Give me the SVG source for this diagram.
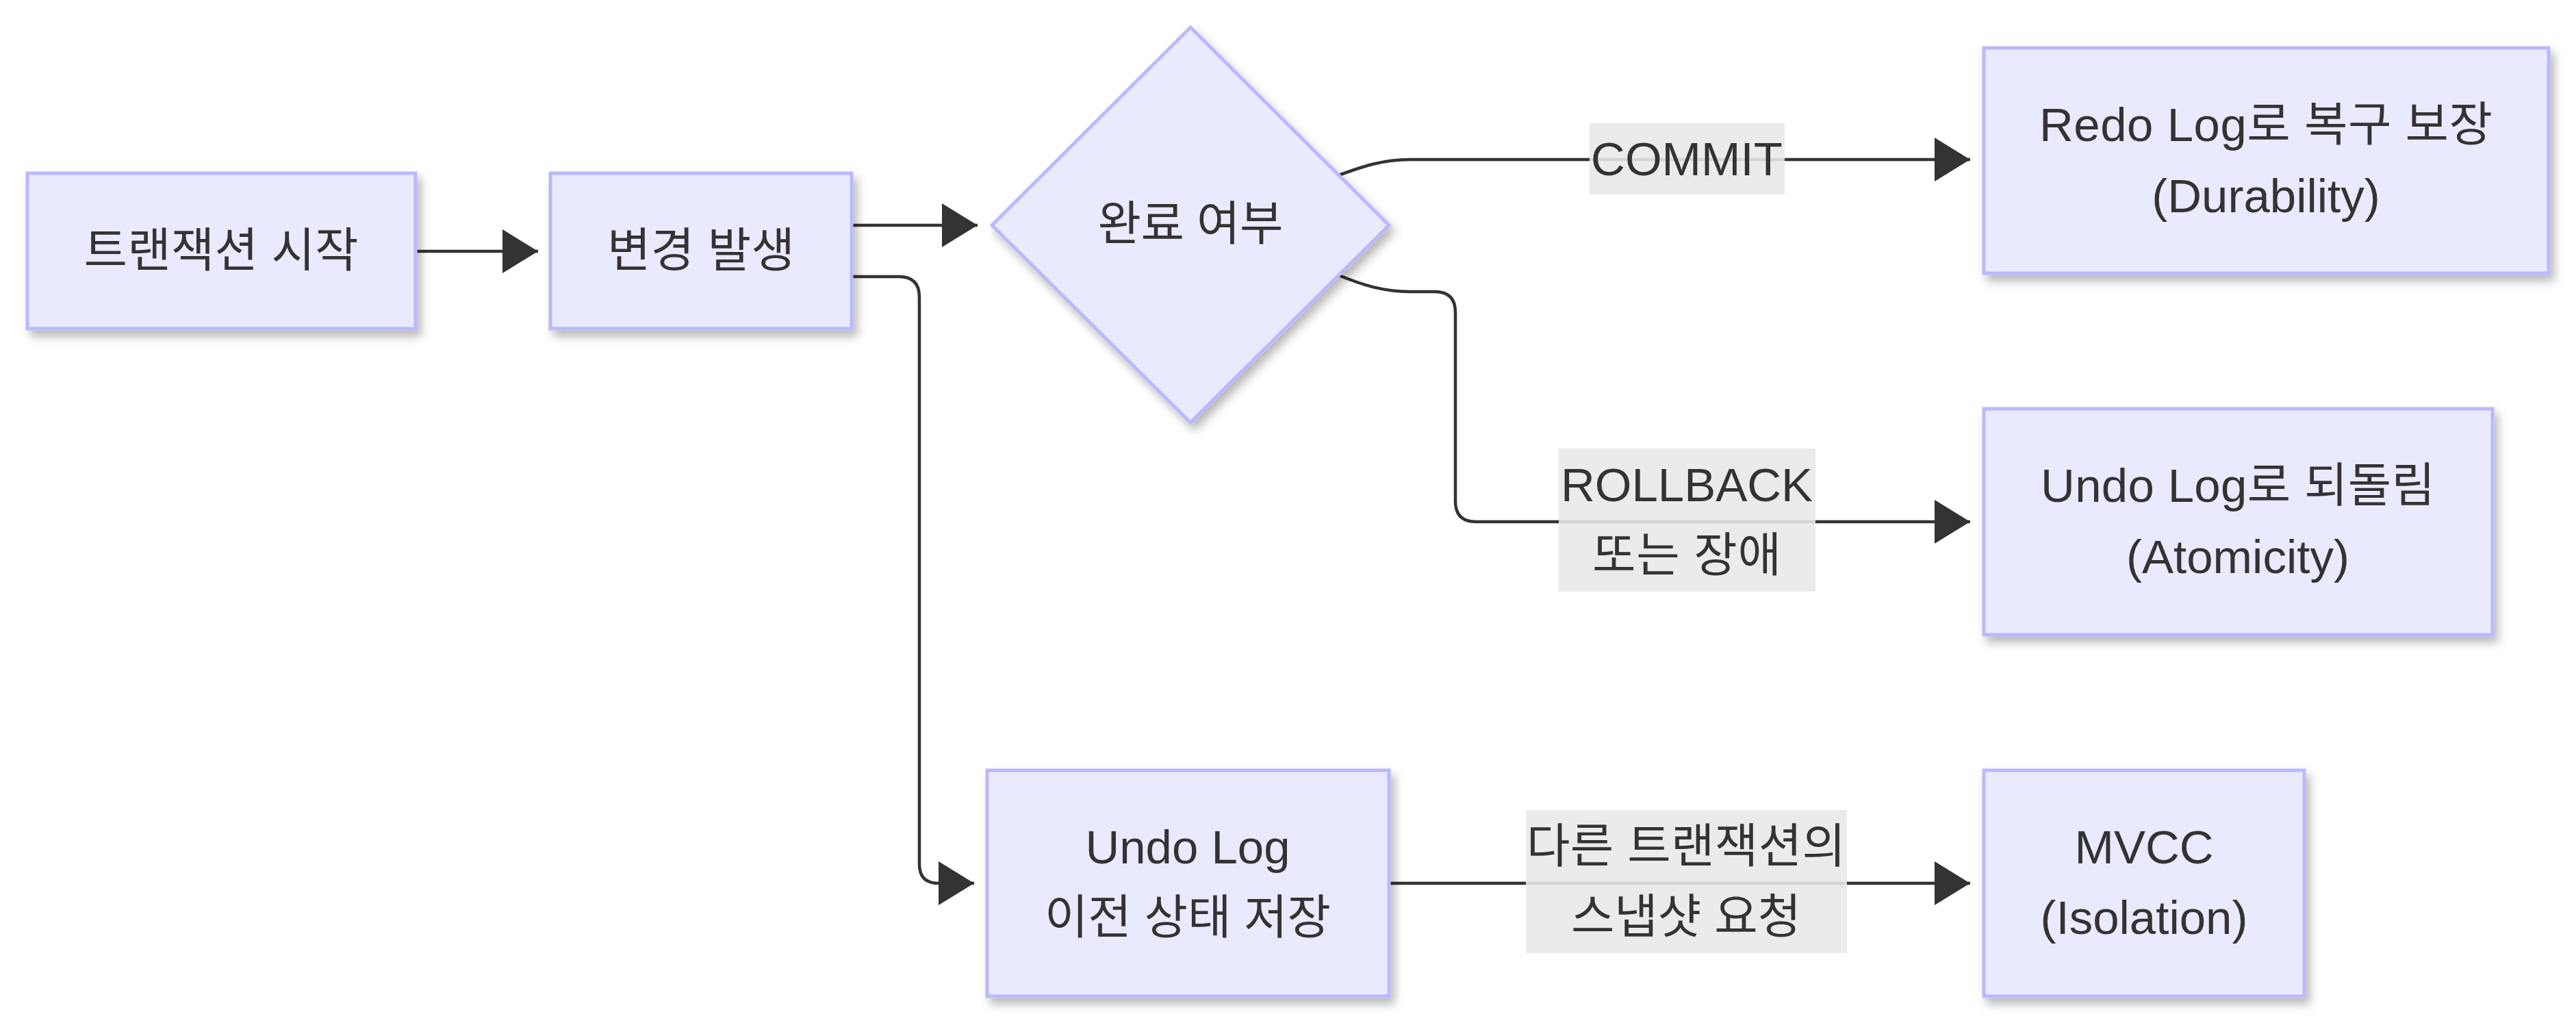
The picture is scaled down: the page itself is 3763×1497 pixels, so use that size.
<svg xmlns="http://www.w3.org/2000/svg" width="3763" height="1497" viewBox="0 0 3763 1497">
<defs>
<style>
.node{fill:#eaeaff;stroke:#b9b9ff;stroke-width:5;filter:url(#sh)}
.t{font-family:"Liberation Sans","Noto Sans CJK KR",sans-serif;font-size:69px;fill:#333;text-anchor:middle;dominant-baseline:central}
.edge{fill:none;stroke:#333;stroke-width:4.5;marker-end:url(#arr)}
.lbl{fill:#e8e8e8;opacity:0.89}
</style>
<filter id="sh" x="-20%" y="-20%" width="150%" height="150%">
<feDropShadow dx="6" dy="9" stdDeviation="7" flood-color="#000" flood-opacity="0.28"/>
</filter>
<marker id="arr" markerUnits="userSpaceOnUse" markerWidth="53" markerHeight="64" refX="52" refY="32" orient="auto">
<path d="M0,0 L52,32 L0,64 Z" fill="#333"/>
</marker>
</defs>
<rect width="3763" height="1497" fill="#fff"/>

<g id="connectors">
<path class="edge" d="M607,367 L786,367"/>
<path class="edge" d="M1244,329 L1428,329"/>
<path class="edge" d="M1244,404 L1313,404 Q1343,404 1343,434 L1343,1262 Q1343,1290 1371,1290 L1423,1290"/>
<path class="edge" d="M1953,257 C1990,243 2020,233 2060,233 L2878,233"/>
<path class="edge" d="M1953,401 C1990,416 2020,426 2060,426 L2096,426 Q2126,426 2126,456 L2126,732 Q2126,762 2156,762 L2878,762"/>
<path class="edge" d="M2029,1290 L2878,1290"/>
</g>

<g id="edge-labels">
<g id="lbl-commit">
<rect class="lbl" x="2322" y="180" width="285" height="104"/>
<text class="t" x="2464" y="232">COMMIT</text>
</g>
<g id="lbl-rollback">
<rect class="lbl" x="2277" y="655" width="375" height="209"/>
<text class="t" x="2464" y="708">ROLLBACK</text>
<text class="t" x="2464" y="811" textLength="276" lengthAdjust="spacing">또는 장애</text>
</g>
<g id="lbl-snapshot">
<rect class="lbl" x="2229" y="1183" width="469" height="209"/>
<text class="t" x="2463" y="1236" textLength="466" lengthAdjust="spacing">다른 트랜잭션의</text>
<text class="t" x="2463" y="1339" textLength="336" lengthAdjust="spacing">스냅샷 요청</text>
</g>
</g>

<g id="node-start">
<rect class="node" x="40" y="253" width="567" height="227"/>
<text class="t" x="323" y="366" textLength="401" lengthAdjust="spacing">트랜잭션 시작</text>
</g>
<g id="node-change">
<rect class="node" x="804" y="253" width="440" height="227"/>
<text class="t" x="1024" y="366" textLength="274" lengthAdjust="spacing">변경 발생</text>
</g>
<g id="node-decision">
<polygon class="node" points="1739,40 2029,329 1739,617 1449,329"/>
<text class="t" x="1739" y="327" textLength="271" lengthAdjust="spacing">완료 여부</text>
</g>
<g id="node-redo">
<rect class="node" x="2898" y="70" width="825" height="329"/>
<text class="t" x="3310" y="182" textLength="662" lengthAdjust="spacing">Redo Log로 복구 보장</text>
<text class="t" x="3310" y="286">(Durability)</text>
</g>
<g id="node-undo-rollback">
<rect class="node" x="2898" y="597" width="743" height="330"/>
<text class="t" x="3269" y="709" textLength="576" lengthAdjust="spacing">Undo Log로 되돌림</text>
<text class="t" x="3269" y="813">(Atomicity)</text>
</g>
<g id="node-undo-log">
<rect class="node" x="1442" y="1125" width="587" height="330"/>
<text class="t" x="1735" y="1237">Undo Log</text>
<text class="t" x="1735" y="1340" textLength="418" lengthAdjust="spacing">이전 상태 저장</text>
</g>
<g id="node-mvcc">
<rect class="node" x="2898" y="1125" width="468" height="330"/>
<text class="t" x="3132" y="1237">MVCC</text>
<text class="t" x="3132" y="1340">(Isolation)</text>
</g>
</svg>
